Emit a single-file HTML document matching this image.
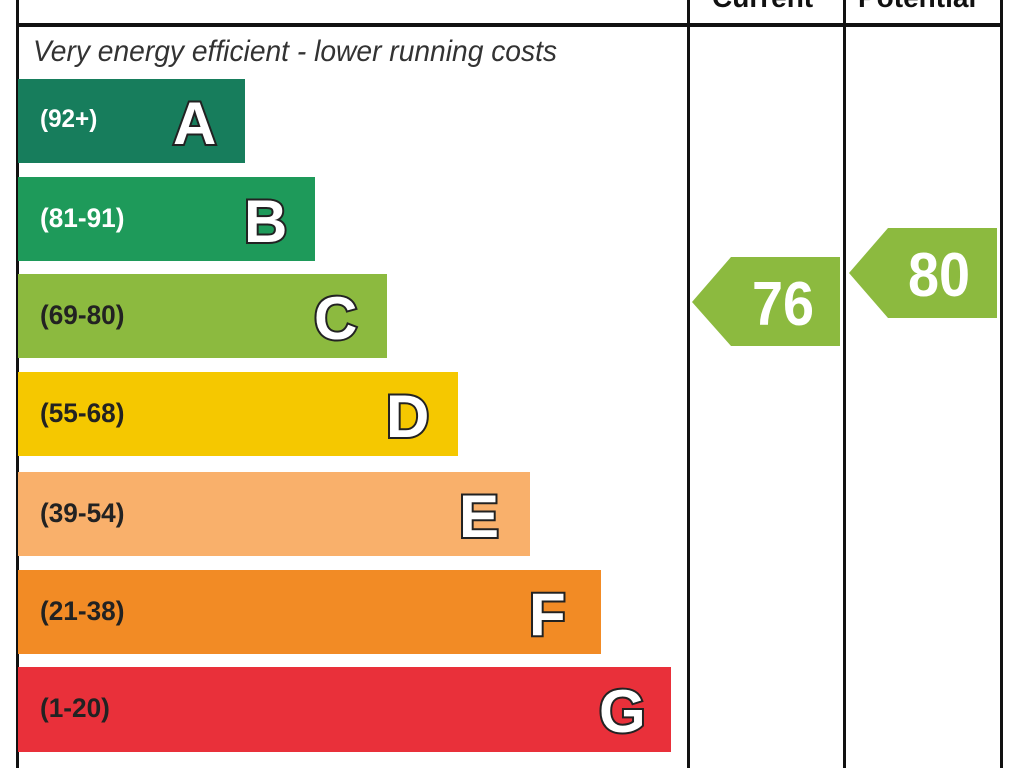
<!DOCTYPE html>
<html><head><style>
body{margin:0;width:1024px;height:768px;background:#fff;overflow:hidden;position:relative;font-family:"Liberation Sans",sans-serif}
.l{position:absolute;background:#111}
.bar{position:absolute;left:18px;height:84px}
.rng{position:absolute;left:22px;top:26px;font-weight:bold;font-size:27px;color:#222;transform:scaleX(0.97);transform-origin:left}
.let{position:absolute;top:10px;font-family:"Liberation Sans",sans-serif;font-weight:bold;font-size:60px;color:#fff;-webkit-text-stroke:4px #222;paint-order:stroke fill}
.hd{position:absolute;top:-18px;font-weight:bold;font-size:28px;color:#111}
</style></head><body>
<div class="l" style="left:16px;top:0;width:3px;height:768px"></div>
<div class="l" style="left:687px;top:0;width:3px;height:768px"></div>
<div class="l" style="left:843px;top:0;width:3px;height:768px"></div>
<div class="l" style="left:1000px;top:0;width:3px;height:768px"></div>
<div class="l" style="left:16px;top:23px;width:987px;height:4px"></div>
<div class="hd" style="left:712px">Current</div>
<div class="hd" style="left:858px">Potential</div>
<div style="position:absolute;left:33px;top:35px;font-style:italic;font-size:30px;color:#333;transform:scaleX(0.94);transform-origin:left;white-space:nowrap">Very energy efficient - lower running costs</div>

<div class="bar" style="top:79px;width:227px;background:#177d5c"><span class="rng" style="color:#fff;font-size:25px">(92+)</span><span class="let" style="left:155px">A</span></div>
<div class="bar" style="top:177px;width:297px;background:#1e9a5a"><span class="rng" style="color:#fff">(81-91)</span><span class="let" style="left:226px">B</span></div>
<div class="bar" style="top:274px;width:369px;background:#8cba3f"><span class="rng">(69-80)</span><span class="let" style="left:296px">C</span></div>
<div class="bar" style="top:372px;width:440px;background:#f5c800"><span class="rng">(55-68)</span><span class="let" style="left:368px">D</span></div>
<div class="bar" style="top:472px;width:512px;background:#f9b06b"><span class="rng">(39-54)</span><span class="let" style="left:441px">E</span></div>
<div class="bar" style="top:570px;width:583px;background:#f28b25"><span class="rng">(21-38)</span><span class="let" style="left:511px">F</span></div>
<div class="bar" style="top:667px;width:653px;height:85px;background:#e9303a"><span class="rng">(1-20)</span><span class="let" style="left:581px">G</span></div>

<svg style="position:absolute;left:0;top:0" width="1024" height="768">
<polygon points="692,302 731,257 840,257 840,346 731,346" fill="#8cba3f"/>
<polygon points="849,273 888,228 997,228 997,318 888,318" fill="#8cba3f"/>
<text x="783" y="325" text-anchor="middle" font-family="Liberation Sans" font-weight="bold" font-size="62" fill="#fff" transform="translate(783 0) scale(0.9 1) translate(-783 0)">76</text>
<text x="939" y="296" text-anchor="middle" font-family="Liberation Sans" font-weight="bold" font-size="62" fill="#fff" transform="translate(939 0) scale(0.9 1) translate(-939 0)">80</text>
</svg>
</body></html>
